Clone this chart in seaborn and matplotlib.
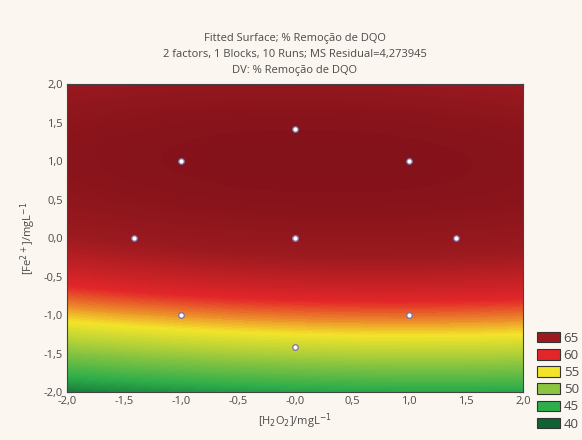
import numpy as np
import pandas as pd
import matplotlib
matplotlib.use("Agg")
import matplotlib.pyplot as plt
from matplotlib.colors import LinearSegmentedColormap, Normalize
from matplotlib.patches import Patch
import seaborn as sns

# design runs (coded levels)
run_h2o2 = [-1.0, 1.0, -1.0, 1.0, -1.414, 1.414, 0.0, 0.0, 0.0, 0.0]
run_fe = [-1.0, -1.0, 1.0, 1.0, 0.0, 0.0, -1.414, 1.414, 0.0, 0.0]

# fitted quadratic model
# b0, b_x, b_y, b_xx, b_yy, b_xy
coef = [66.27, 0.28, 5.6, -0.25, -2.8, -0.185]

# legend levels and colours
level_values = [65, 60, 55, 50, 45, 40]
level_colors = ["#9c1a1f", "#e3262a", "#f3e42a", "#8cc540", "#2eae4a", "#0f6332"]
top_value = 69
top_color = "#84121a"

x_ticks = [-2.0, -1.5, -1.0, -0.5, 0.0, 0.5, 1.0, 1.5, 2.0]
x_tick_labels = ["-2,0", "-1,5", "-1,0", "-0,5", "-0,0", "0,5", "1,0", "1,5", "2,0"]
y_ticks = [-2.0, -1.5, -1.0, -0.5, 0.0, 0.5, 1.0, 1.5, 2.0]
y_tick_labels = ["-2,0", "-1,5", "-1,0", "-0,5", "0,0", "0,5", "1,0", "1,5", "2,0"]

title_lines = [
    "Fitted Surface; % Remoção de DQO",
    "2 factors, 1 Blocks, 10 Runs; MS Residual=4,273945",
    "DV: % Remoção de DQO",
]

sns.set_style("ticks")
plt.rcParams["font.family"] = ["Open Sans", "DejaVu Sans"]
plt.rcParams["mathtext.fontset"] = "dejavusans"

bg = "#fbf7f0"
text_color = "#4a4a4a"

fig = plt.figure(figsize=(5.82, 4.4), dpi=100, facecolor=bg)
ax = fig.add_axes([0.1151, 0.109, 0.7835, 0.7])

# colour map built from the legend levels
stops = sorted(zip(level_values, level_colors)) + [(top_value, top_color)]
vmin, vmax = stops[0][0], stops[-1][0]
cmap = LinearSegmentedColormap.from_list(
    "statistica",
    [((v - vmin) / (vmax - vmin), c) for v, c in stops]
)

gx, gy = np.meshgrid(np.linspace(-2, 2, 241), np.linspace(-2, 2, 241))
b0, bx, by, bxx, byy, bxy = coef
gz = b0 + bx * gx + by * gy + bxx * gx ** 2 + byy * gy ** 2 + bxy * gx * gy

ax.contourf(
    gx, gy, gz,
    levels=np.linspace(38, 70, 140),
    cmap=cmap,
    norm=Normalize(vmin, vmax),
    extend="both"
)

runs = pd.DataFrame({"h2o2": run_h2o2, "fe": run_fe})
sns.scatterplot(
    data=runs, x="h2o2", y="fe", ax=ax,
    s=16, color="white", edgecolor="#7f6f9f", linewidth=0.9, zorder=5
)

ax.set_xlim(-2, 2)
ax.set_ylim(-2, 2)
ax.set_xticks(x_ticks)
ax.set_xticklabels(x_tick_labels)
ax.set_yticks(y_ticks)
ax.set_yticklabels(y_tick_labels)
ax.tick_params(
    direction="in", length=3, width=0.8, color="#333333",
    labelsize=8, labelcolor=text_color, top=True, right=True, pad=3
)
for spine in ax.spines.values():
    spine.set_color("#444444")
    spine.set_linewidth(0.8)

ax.set_xlabel(r"[H$_2$O$_2$]/mgL$^{-1}$", fontsize=8, color=text_color, labelpad=3)
ax.set_ylabel(r"[Fe$^{2+}$]/mgL$^{-1}$", fontsize=8, color=text_color, labelpad=4)
ax.set_title("\n".join(title_lines), fontsize=8, color=text_color,
             linespacing=1.6, pad=8)

handles = [Patch(facecolor=c, edgecolor="#333333", linewidth=0.8)
           for c in level_colors]
fig.legend(
    handles, [str(v) for v in level_values],
    loc="upper left", bbox_to_anchor=(530 / 582, 1 - 325 / 440),
    frameon=False, fontsize=9.5, handlelength=1.75, handleheight=0.85,
    labelspacing=0.32, handletextpad=0.3, borderpad=0.0,
    labelcolor=text_color
)

fig.savefig("out.png", dpi=100, facecolor=bg)
